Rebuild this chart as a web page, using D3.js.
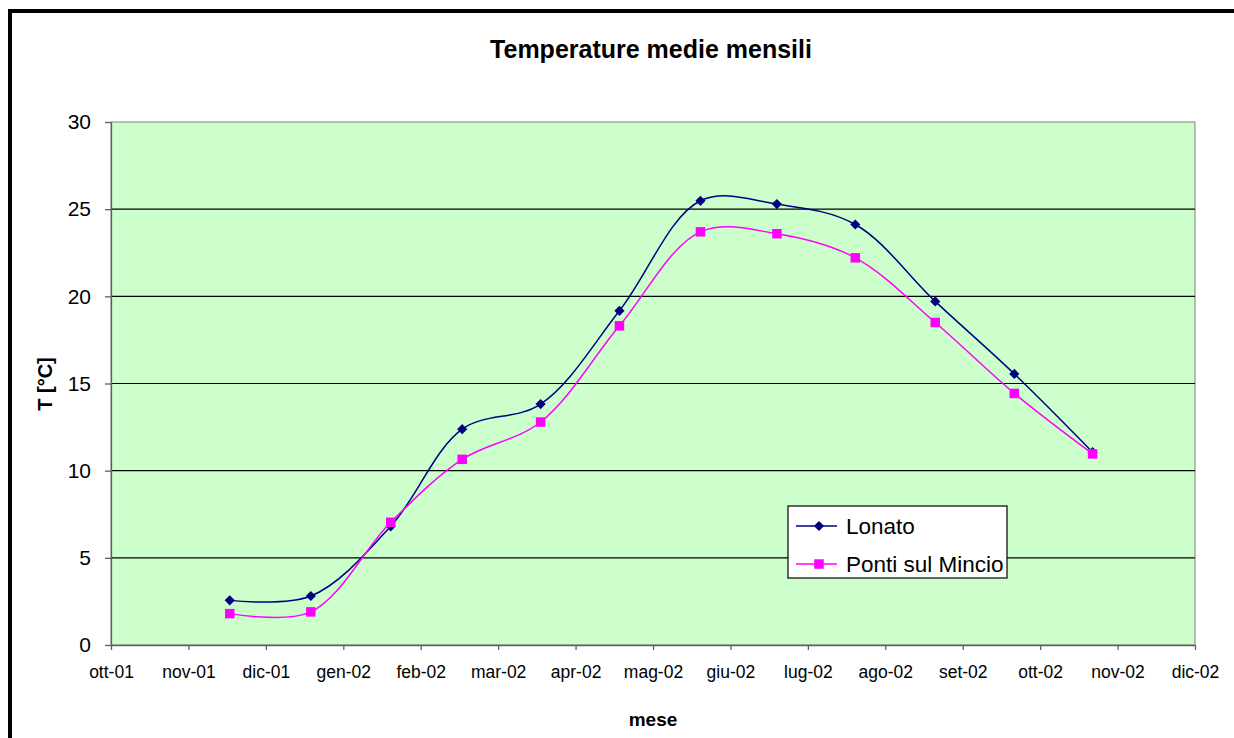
<!DOCTYPE html>
<html>
<head>
<meta charset="utf-8">
<script src="https://cdn.jsdelivr.net/npm/d3@7"></script>
<style>
  body { margin: 0; background: #fff; }
  svg text { font-family: "Liberation Sans", Arial, sans-serif; }
</style>
</head>
<body>
<div id="chart"></div>
<script>
// Etichette dei mesi sull'asse x
const mesi = ["ott-01", "nov-01", "dic-01", "gen-02", "feb-02", "mar-02", "apr-02",
    "mag-02", "giu-02", "lug-02", "ago-02", "set-02", "ott-02", "nov-02", "dic-02"];

// Date delle medie mensili
const date = ["2001-11-17", "2001-12-19", "2002-01-20", "2002-02-16", "2002-03-18",
    "2002-04-18", "2002-05-20", "2002-06-19", "2002-07-20", "2002-08-21",
    "2002-09-21", "2002-10-22"];

// Temperature medie (°C)
const lonato = [2.56, 2.81, 6.81, 12.38, 13.82, 19.17, 25.48, 25.29, 24.12, 19.71, 15.55, 11.06];
const ponti = [1.80, 1.90, 7.04, 10.65, 12.79, 18.31, 23.70, 23.59, 22.21, 18.50, 14.43, 10.96];

const yTicks = [0, 5, 10, 15, 20, 25, 30];

const width = 1234, height = 738;
const margin = { top: 122, right: 39, bottom: 93, left: 111 };

const svg = d3.select("#chart")
    .append("svg")
    .attr("width", width)
    .attr("height", height);

// Cornice esterna
svg.append("rect")
    .attr("x", 10).attr("y", 11)
    .attr("width", 1240).attr("height", 740)
    .attr("fill", "#fff")
    .attr("stroke", "#000")
    .attr("stroke-width", 4);

// indice del mese (ott-01 = 0), con la frazione del giorno
const parse = d3.timeParse("%Y-%m-%d");
function meseIndice(s) {
    const d = parse(s);
    const inizio = d3.timeMonth.floor(d);
    const giorni = d3.timeDay.count(inizio, d3.timeMonth.offset(inizio, 1));
    return (d.getFullYear() - 2001) * 12 + d.getMonth() - 9 + (d.getDate() - 1) / giorni;
}

const x = d3.scaleLinear()
    .domain([0, mesi.length - 1])
    .range([margin.left, width - margin.right]);

const y = d3.scaleLinear()
    .domain([0, 30])
    .range([height - margin.bottom, margin.top]);

// Area del grafico
svg.append("rect")
    .attr("x", margin.left)
    .attr("y", margin.top)
    .attr("width", x.range()[1] - margin.left)
    .attr("height", y(0) - margin.top)
    .attr("fill", "#ccffcc")
    .attr("stroke", "#808080")
    .attr("stroke-width", 1);

// Griglia
svg.append("g")
    .selectAll("line")
    .data(yTicks.slice(1, -1))
    .join("line")
    .attr("x1", margin.left)
    .attr("x2", x.range()[1])
    .attr("y1", d => y(d))
    .attr("y2", d => y(d))
    .attr("stroke", "#000")
    .attr("stroke-width", 1.2);

// Assi
const xAxis = svg.append("g")
    .attr("transform", `translate(0,${y(0)})`)
    .call(d3.axisBottom(x)
        .tickValues(d3.range(mesi.length))
        .tickFormat(i => mesi[i])
        .tickSizeInner(5)
        .tickSizeOuter(0)
        .tickPadding(16));

xAxis.selectAll("text")
    .attr("font-size", 17.5)
    .attr("fill", "#000");

const yAxis = svg.append("g")
    .attr("transform", `translate(${margin.left},0)`)
    .call(d3.axisLeft(y)
        .tickValues(yTicks)
        .tickSizeInner(6)
        .tickSizeOuter(0)
        .tickPadding(14));

yAxis.selectAll("text")
    .attr("font-size", 21)
    .attr("fill", "#000");

svg.selectAll(".domain, .tick line")
    .attr("stroke", "#606060")
    .attr("stroke-width", 1.3);

// Serie
const serie = [
    { nome: "Lonato", valori: lonato, colore: "#000080", simbolo: "diamond" },
    { nome: "Ponti sul Mincio", valori: ponti, colore: "#ff00ff", simbolo: "square" }
];

const line = d3.line()
    .x((d, i) => x(meseIndice(date[i])))
    .y(d => y(d))
    .curve(d3.curveCatmullRom.alpha(0.5));

function marker(g, s) {
    if (s.simbolo === "diamond") {
        g.append("path")
            .attr("d", d3.symbol(d3.symbolSquare, 52)())
            .attr("transform", "rotate(45)")
            .attr("fill", s.colore);
    } else {
        g.append("path")
            .attr("d", d3.symbol(d3.symbolSquare, 90)())
            .attr("fill", s.colore);
    }
}

serie.forEach(s => {
    svg.append("path")
        .datum(s.valori)
        .attr("d", line)
        .attr("fill", "none")
        .attr("stroke", s.colore)
        .attr("stroke-width", 1.5);

    svg.append("g")
        .selectAll("g")
        .data(s.valori)
        .join("g")
        .attr("transform", (d, i) => `translate(${x(meseIndice(date[i]))},${y(d)})`)
        .each(function () { marker(d3.select(this), s); });
});

// Titoli
svg.append("text")
    .attr("x", 651).attr("y", 58)
    .attr("text-anchor", "middle")
    .attr("font-size", 25)
    .attr("font-weight", "bold")
    .text("Temperature medie mensili");

svg.append("text")
    .attr("x", 653).attr("y", 726)
    .attr("text-anchor", "middle")
    .attr("font-size", 19)
    .attr("font-weight", "bold")
    .text("mese");

svg.append("text")
    .attr("transform", "translate(52,384) rotate(-90)")
    .attr("text-anchor", "middle")
    .attr("font-size", 20)
    .attr("font-weight", "bold")
    .text("T [°C]");

// Legenda
const legend = svg.append("g").attr("transform", "translate(788,506)");
legend.append("rect")
    .attr("width", 219).attr("height", 72)
    .attr("fill", "#fff")
    .attr("stroke", "#000")
    .attr("stroke-width", 1.2);

const voce = legend.selectAll("g.voce")
    .data(serie)
    .join("g")
    .attr("class", "voce")
    .attr("transform", (d, i) => `translate(0,${20 + i * 38})`);

voce.append("line")
    .attr("x1", 8).attr("x2", 49)
    .attr("stroke", d => d.colore)
    .attr("stroke-width", 1.5);

voce.append("g")
    .attr("transform", "translate(31,0)")
    .each(function (d) { marker(d3.select(this), d); });

voce.append("text")
    .attr("x", 58)
    .attr("y", 8)
    .attr("font-size", 22.5)
    .text(d => d.nome);
</script>
</body>
</html>
